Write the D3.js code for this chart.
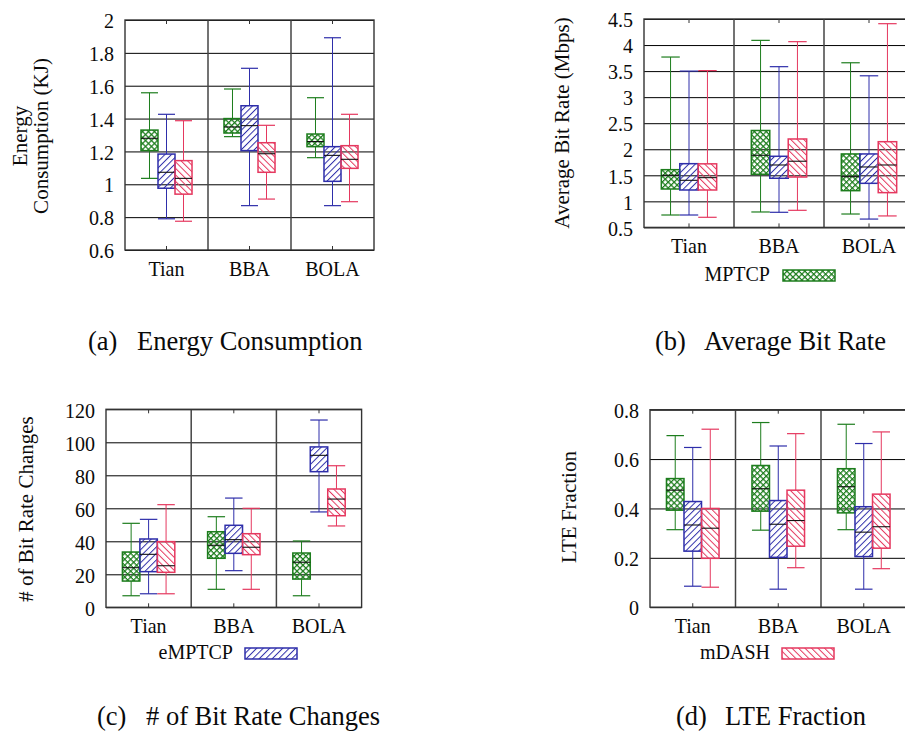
<!DOCTYPE html>
<html>
<head>
<meta charset="utf-8">
<script src="https://cdn.jsdelivr.net/npm/d3@7"></script>
<style>
  body { margin: 0; background: #fff; }
  text { font-family: "Liberation Serif", "Times New Roman", serif; fill: #0a0a0a; }
</style>
</head>
<body>
<div id="chart"></div>
<script>
// Categories and series
const categories = ["Tian", "BBA", "BOLA"];
const seriesNames = ["MPTCP", "eMPTCP", "mDASH"];

// each entry: [low whisker, q1, median, q3, high whisker], one per category
const energyMPTCP  = [[1.036, 1.205, 1.28, 1.33, 1.557], [1.29, 1.312, 1.349, 1.40, 1.58], [1.162, 1.229, 1.26, 1.306, 1.527]];
const energyEMPTCP = [[0.79, 0.976, 1.073, 1.184, 1.426], [0.87, 1.205, 1.357, 1.478, 1.706], [0.87, 1.018, 1.176, 1.229, 1.892]];
const energyMDASH  = [[0.775, 0.94, 1.036, 1.144, 1.387], [0.91, 1.073, 1.186, 1.253, 1.359], [0.894, 1.097, 1.152, 1.235, 1.426]];

const bitrateMPTCP  = [[0.738, 1.237, 1.5, 1.608, 3.77], [0.796, 1.52, 1.884, 2.36, 4.09], [0.757, 1.205, 1.474, 1.91, 3.66]];
const bitrateEMPTCP = [[0.738, 1.218, 1.404, 1.723, 3.5], [0.79, 1.443, 1.698, 1.865, 3.585], [0.66, 1.346, 1.66, 1.91, 3.41]];
const bitrateMDASH  = [[0.694, 1.218, 1.455, 1.72, 3.51], [0.828, 1.467, 1.77, 2.197, 4.065], [0.72, 1.167, 1.698, 2.145, 4.41]];

const changesMPTCP  = [[7, 15.9, 24, 33.5, 50.9], [10.9, 29.7, 37.6, 45.8, 54.9], [7, 17.1, 27.3, 32.9, 40.2]];
const changesEMPTCP = [[8.2, 21.6, 32.1, 41.4, 53.3], [22.2, 32.7, 41, 49.7, 66.2], [57.8, 82.2, 92.1, 97.2, 113.5]];
const changesMDASH  = [[8.2, 21.2, 25.2, 39.8, 62.2], [10.9, 31.9, 36.4, 44.6, 60], [49.3, 55.5, 65.6, 71.7, 85.8]];

const lteMPTCP  = [[0.314, 0.393, 0.474, 0.521, 0.695], [0.312, 0.389, 0.48, 0.574, 0.748], [0.314, 0.382, 0.488, 0.561, 0.741]];
const lteEMPTCP = [[0.085, 0.227, 0.333, 0.428, 0.647], [0.073, 0.202, 0.336, 0.432, 0.653], [0.073, 0.205, 0.304, 0.407, 0.663]];
const lteMDASH  = [[0.081, 0.198, 0.32, 0.40, 0.721], [0.16, 0.247, 0.351, 0.474, 0.703], [0.156, 0.239, 0.326, 0.458, 0.71]];

// Tick values
const energyTicks  = [0.6, 0.8, 1, 1.2, 1.4, 1.6, 1.8, 2];
const bitrateTicks = [0.5, 1, 1.5, 2, 2.5, 3, 3.5, 4, 4.5];
const changesTicks = [0, 20, 40, 60, 80, 100, 120];
const lteTicks     = [0, 0.2, 0.4, 0.6, 0.8];

// Colors / patterns
var colors = ["#1d7d1d", "#2e2eaa", "#e5385f"];
var patternIds = ["pat-green", "pat-blue", "pat-red"];
var SQ = 0.91; // the original text is slightly narrow

var svg = d3.select("#chart").append("svg")
    .attr("width", 905)
    .attr("height", 731);

var defs = svg.append("defs");
// green crosshatch
defs.append("pattern")
    .attr("id", "pat-green").attr("patternUnits", "userSpaceOnUse")
    .attr("width", 4.2).attr("height", 4.2)
    .attr("patternTransform", "rotate(45)")
  .append("path")
    .attr("d", "M0,0.5H4.2M0.5,0V4.2")
    .attr("stroke", colors[0]).attr("stroke-width", 1.5).attr("fill", "none");
// blue "/" lines
defs.append("pattern")
    .attr("id", "pat-blue").attr("patternUnits", "userSpaceOnUse")
    .attr("width", 4.6).attr("height", 10)
    .attr("patternTransform", "rotate(45)")
  .append("line")
    .attr("x1", 0.5).attr("y1", 0).attr("x2", 0.5).attr("y2", 10)
    .attr("stroke", colors[1]).attr("stroke-width", 1);
// red "\" lines
defs.append("pattern")
    .attr("id", "pat-red").attr("patternUnits", "userSpaceOnUse")
    .attr("width", 4.6).attr("height", 10)
    .attr("patternTransform", "rotate(-45)")
  .append("line")
    .attr("x1", 0.5).attr("y1", 0).attr("x2", 0.5).attr("y2", 10)
    .attr("stroke", colors[2]).attr("stroke-width", 1);

var panels = [
    { x0: 125, bw: 83, y0: 20, y1: 250, domain: [0.6, 2], ticks: energyTicks,
      series: [energyMPTCP, energyEMPTCP, energyMDASH] },
    { x0: 644, bw: 90, y0: 19, y1: 227.4, domain: [0.5, 4.5], ticks: bitrateTicks,
      series: [bitrateMPTCP, bitrateEMPTCP, bitrateMDASH] },
    { x0: 106, bw: 85.2, y0: 409.3, y1: 607.3, domain: [0, 120], ticks: changesTicks,
      series: [changesMPTCP, changesEMPTCP, changesMDASH] },
    { x0: 650, bw: 85.5, y0: 409.7, y1: 607.2, domain: [0, 0.8], ticks: lteTicks,
      series: [lteMPTCP, lteEMPTCP, lteMDASH] }
];

function drawPanel(p) {
    var g = svg.append("g");
    var x = d3.scaleBand().domain(categories).range([p.x0, p.x0 + 3 * p.bw]);
    var y = d3.scaleLinear().domain(p.domain).range([p.y1, p.y0]);
    var w = 3 * p.bw;
    var boxW = p.bw * 0.205;

    // y axis with gridlines
    var ya = g.append("g")
        .attr("transform", `translate(${p.x0},0)`)
        .call(d3.axisLeft(y).tickValues(p.ticks).tickFormat(d => String(d))
            .tickSize(-w).tickPadding(0));
    ya.select(".domain").remove();
    ya.selectAll("line").attr("stroke", "#000").attr("stroke-width", 1);
    ya.selectAll("text")
        .attr("x", null).attr("dy", "0.35em")
        .attr("transform", `translate(-11,0) scale(${SQ},1)`)
        .style("font-size", "22px").attr("font-family", null).attr("fill", "#0a0a0a");

    // category separators
    g.selectAll("line.sep")
        .data(categories.slice(1))
        .enter().append("line")
        .attr("class", "sep")
        .attr("x1", d => x(d)).attr("x2", d => x(d))
        .attr("y1", p.y0).attr("y2", p.y1)
        .attr("stroke", "#444").attr("stroke-width", 1.5);

    // x axis labels and inner ticks
    var xa = g.append("g")
        .attr("transform", `translate(0,${p.y1})`)
        .call(d3.axisBottom(x).tickSizeInner(-4).tickSizeOuter(0).tickPadding(10));
    xa.select(".domain").remove();
    xa.selectAll("line").attr("stroke", "#333");
    xa.selectAll("text")
        .attr("transform", `scale(${SQ},1)`)
        .style("font-size", "22px").attr("font-family", null).attr("fill", "#0a0a0a");
    var xt = g.append("g")
        .attr("transform", `translate(0,${p.y0})`)
        .call(d3.axisTop(x).tickSizeInner(-4).tickSizeOuter(0).tickFormat(""));
    xt.select(".domain").remove();
    xt.selectAll("line").attr("stroke", "#333");

    // boxes
    p.series.forEach((vals, si) => {
        var items = vals.map((v, ci) => ({
            cx: x(categories[ci]) + p.bw / 2 + (si - 1) * boxW,
            lo: v[0], q1: v[1], med: v[2], q3: v[3], hi: v[4]
        }));
        var sg = g.append("g");
        // whiskers
        sg.selectAll("line.wl").data(items).enter().append("line")
            .attr("x1", d => d.cx).attr("x2", d => d.cx)
            .attr("y1", d => y(d.lo)).attr("y2", d => y(d.q1))
            .attr("stroke", colors[si]).attr("stroke-width", 1);
        sg.selectAll("line.wh").data(items).enter().append("line")
            .attr("x1", d => d.cx).attr("x2", d => d.cx)
            .attr("y1", d => y(d.q3)).attr("y2", d => y(d.hi))
            .attr("stroke", colors[si]).attr("stroke-width", 1);
        // caps
        ["lo", "hi"].forEach(k => {
            sg.selectAll("line.cap-" + k).data(items).enter().append("line")
                .attr("x1", d => d.cx - boxW / 2).attr("x2", d => d.cx + boxW / 2)
                .attr("y1", d => y(d[k])).attr("y2", d => y(d[k]))
                .attr("stroke", colors[si]).attr("stroke-width", 1.2);
        });
        // box
        sg.selectAll("rect").data(items).enter().append("rect")
            .attr("x", d => d.cx - boxW / 2)
            .attr("y", d => y(d.q3))
            .attr("width", boxW)
            .attr("height", d => y(d.q1) - y(d.q3))
            .attr("fill", `url(#${patternIds[si]})`)
            .attr("stroke", colors[si]).attr("stroke-width", 1.5);
        // median
        sg.selectAll("line.med").data(items).enter().append("line")
            .attr("x1", d => d.cx - boxW / 2).attr("x2", d => d.cx + boxW / 2)
            .attr("y1", d => y(d.med)).attr("y2", d => y(d.med))
            .attr("stroke", "#111").attr("stroke-width", 1.1);
    });

    // border
    g.append("rect")
        .attr("x", p.x0).attr("y", p.y0)
        .attr("width", w).attr("height", p.y1 - p.y0)
        .attr("fill", "none").attr("stroke", "#333").attr("stroke-width", 1.4);
}

panels.forEach(drawPanel);

// text helpers
function squish(x, yy, str, size, anchor) {
    return svg.append("text")
        .attr("transform", `translate(${x},${yy}) scale(${SQ},1)`)
        .attr("text-anchor", anchor || "start")
        .style("font-size", size + "px")
        .text(str);
}
function yLabel(x, yy, str) {
    svg.append("text")
        .attr("transform", `translate(${x},${yy}) rotate(-90)`)
        .attr("text-anchor", "middle")
        .attr("dominant-baseline", "central")
        .style("font-size", "21px")
        .text(str);
}

// y axis titles
yLabel(20, 136, "Energy");
yLabel(41, 136, "Consumption (KJ)");
yLabel(562, 123, "Average Bit Rate (Mbps)");
yLabel(26, 509, "# of Bit Rate Changes");
yLabel(569, 507, "LTE Fraction");

// legends
var legends = [
    { text: "MPTCP", tx: 770, bx: 783, by: 270 },
    { text: "eMPTCP", tx: 233, bx: 245, by: 648 },
    { text: "mDASH", tx: 770, bx: 782, by: 648 }
];
legends.forEach((l, i) => {
    squish(l.tx, l.by + 11, l.text, 22, "end");
    svg.append("rect")
        .attr("x", l.bx).attr("y", l.by)
        .attr("width", 52).attr("height", 11)
        .attr("fill", `url(#${patternIds[i]})`)
        .attr("stroke", colors[i]).attr("stroke-width", 1.5);
});

// captions
var captions = [
    { tag: "(a)", title: "Energy Consumption", x: 88, y: 350 },
    { tag: "(b)", title: "Average Bit Rate", x: 655, y: 350 },
    { tag: "(c)", title: "# of Bit Rate Changes", x: 97, y: 725 },
    { tag: "(d)", title: "LTE Fraction", x: 676, y: 725 }
];
captions.forEach(c => {
    svg.append("text").attr("x", c.x).attr("y", c.y)
        .style("font-size", "26.5px").text(c.tag);
    svg.append("text").attr("x", c.x + 49).attr("y", c.y)
        .style("font-size", "26.5px").text(c.title);
});
</script>
</body>
</html>
